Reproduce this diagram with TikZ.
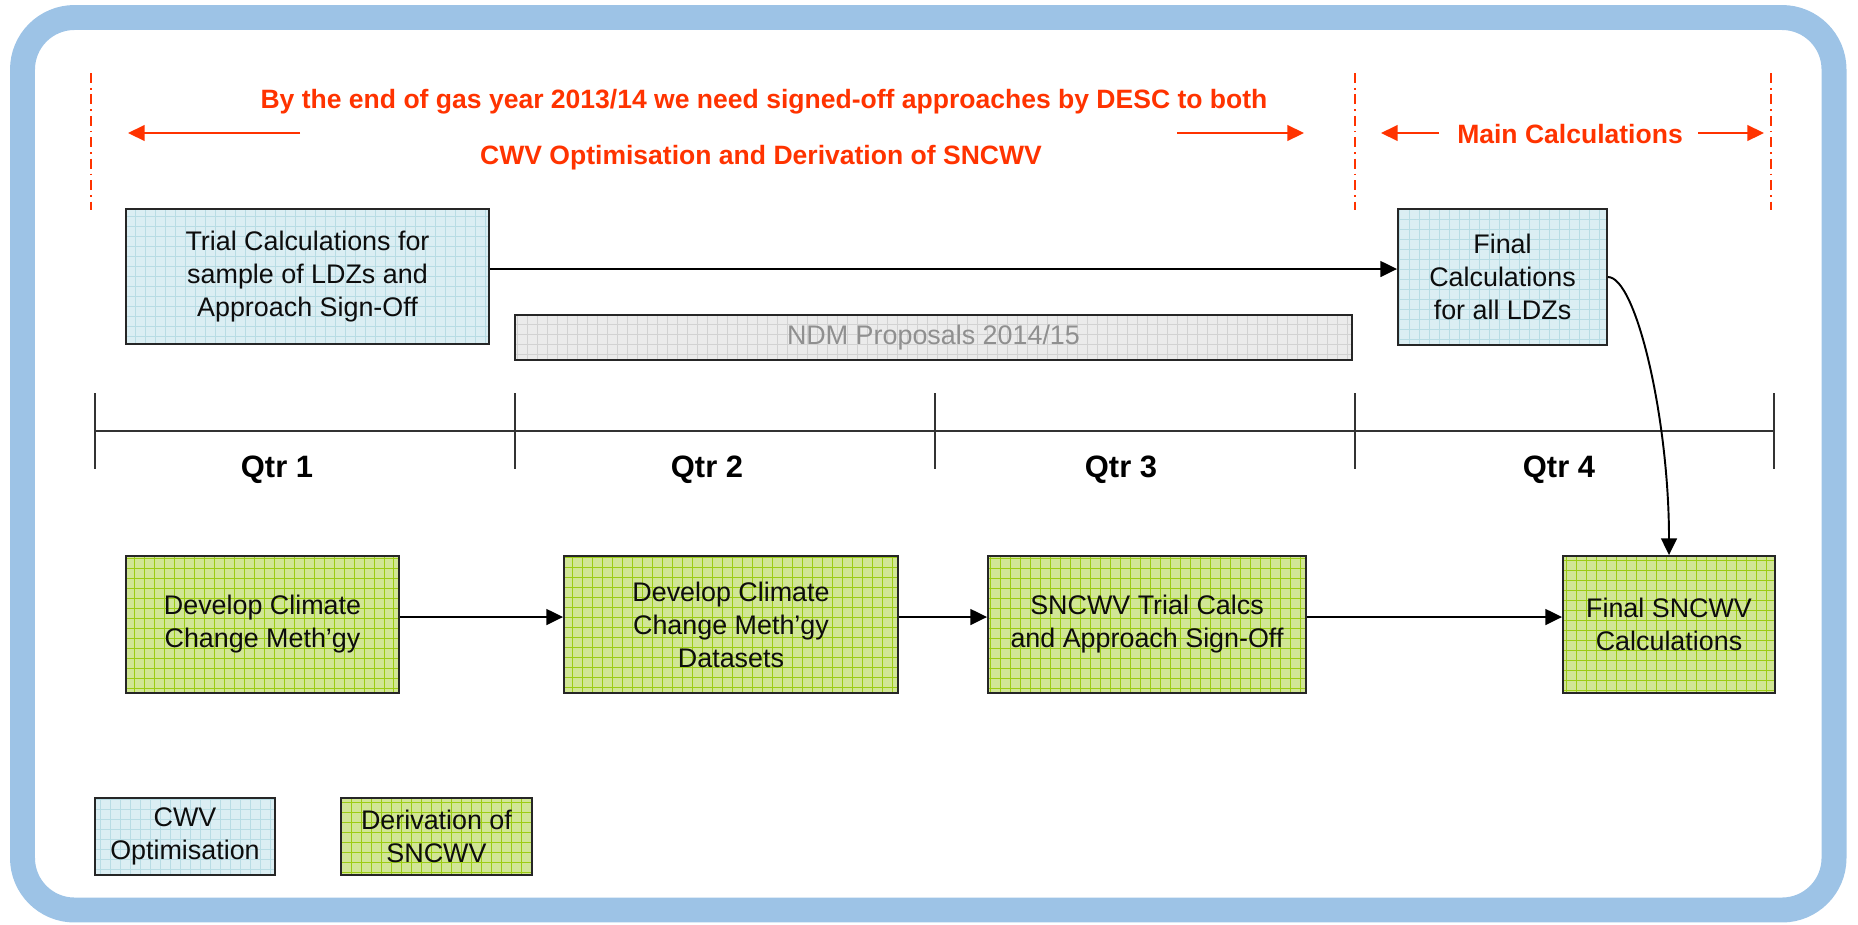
\documentclass[tikz,border=0pt]{standalone}
\usepackage{fontspec}
\setmainfont{Liberation Sans}
\usepackage{xcolor}
\usepackage{tikz}
\usetikzlibrary{arrows.meta}

\definecolor{warnred}{HTML}{FF3300}
\definecolor{frameblue}{HTML}{9DC3E6}
\definecolor{cwvfill}{HTML}{DBEEF3}
\definecolor{cwvgrid}{HTML}{B8DCE4}
\definecolor{sncfill}{HTML}{D1E696}
\definecolor{sncgrid}{HTML}{9CCC14}
\definecolor{ndmfill}{HTML}{EBEBEB}
\definecolor{ndmgrid}{HTML}{D2D2D2}
\definecolor{ndmtext}{HTML}{8F8F8F}

\tikzset{
	gridfill/.style={path picture={\draw[#1, line width=0.4pt, step=0.2cm] (path picture bounding box.south west) grid (path picture bounding box.north east);}},
	task/.style={draw=black!85, line width=1.1pt, align=center, text=black!95, font=\fontsize{15.3}{18.8}\selectfont, inner sep=0pt},
	cwvbox/.style={task, fill=cwvfill, gridfill=cwvgrid},
	sncbox/.style={task, fill=sncfill, gridfill=sncgrid},
	ndmbox/.style={task, fill=ndmfill, gridfill=ndmgrid, text=ndmtext},
	flow/.style={-{Triangle[length=9.5pt,width=9pt]}, line width=1.1pt},
	redflow/.style={-{Triangle[length=9.5pt,width=9pt]}, line width=0.9pt, warnred},
	phase/.style={warnred, line width=1.1pt, dash pattern=on 5.7pt off 2.8pt on 0.9pt off 2.8pt},
	redtext/.style={text=warnred, font=\fontsize{15.1}{18}\selectfont\bfseries, anchor=base},
	qtrtext/.style={font=\fontsize{17.6}{20}\selectfont\bfseries, anchor=base},
}

\begin{document}
\begin{tikzpicture}[x=0.02cm, y=-0.02cm]
			\useasboundingbox (0,0) rectangle (1858,924);
			\draw[frameblue, line width=14.2pt, rounded corners=29.6pt] (22.5,17.5) rectangle (1834,910);
			
			\foreach \x in {91, 1355, 1771}{
				\draw[phase] (\x,73) -- (\x,210);
			}
			
			\node[redtext] (goal1) at (764,108) {By the end of gas year 2013/14 we need signed-off approaches by DESC to both};
			\node[redtext] (goal2) at (761,164) {CWV Optimisation and Derivation of SNCWV};
			\node[redtext] (maincalc) at (1570,143) {Main Calculations};
			
			\foreach \name/\from/\to in {
				goall/300/128,
				goalr/1177/1304,
				mainl/1439/1381,
				mainr/1698/1764
			}{
				\coordinate (\name0) at (\from,133);
				\coordinate (\name1) at (\to,133);
				\draw[redflow] (\name0) -- (\name1);
			}
			
			\node[cwvbox, minimum width=7.26cm, minimum height=2.7cm] (trial) at (307.5,276.5) {Trial Calculations for\\sample of LDZs and\\Approach Sign-Off};
			\node[cwvbox, minimum width=4.18cm, minimum height=2.72cm] (final) at (1502.5,277) {Final\\Calculations\\for all LDZs};
			\node[ndmbox, minimum width=16.74cm, minimum height=0.9cm] (ndm) at (933.5,337.5) {NDM Proposals 2014/15};
			
			\draw[line width=0.9pt, black!80] (95,431) -- (1774,431);
			\foreach \x in {95, 515, 935, 1355, 1774}{
				\draw[line width=0.9pt, black!80] (\x,393) -- (\x,469);
			}
			\foreach \x/\q in {277/1, 707/2, 1121/3, 1559/4}{
				\node[qtrtext] (qtr\q) at (\x,477) {Qtr \q};
			}
			
			\node[sncbox, minimum width=5.46cm, minimum height=2.74cm] (climate) at (262.5,624.5) {Develop Climate\\Change Meth'gy};
			\node[sncbox, minimum width=6.68cm, minimum height=2.74cm] (datasets) at (731,624.5) {Develop Climate\\Change Meth'gy\\Datasets};
			\node[sncbox, minimum width=6.36cm, minimum height=2.74cm] (trialcalcs) at (1147,624.5) {SNCWV Trial Calcs\\and Approach Sign-Off};
			\node[sncbox, minimum width=4.24cm, minimum height=2.74cm] (finalsnc) at (1669,624.5) {Final SNCWV\\Calculations};
			
			\draw[flow] ([yshift=0.15cm]trial.east) coordinate (t0) -- (t0 -| final.west);
			\draw[flow] (final.east) .. controls +(28,0) and +(0,-137) .. (finalsnc.north);
			\draw[flow] ([yshift=0.15cm]climate.east) coordinate (c0) -- (c0 -| datasets.west);
			\draw[flow] ([yshift=0.15cm]datasets.east) coordinate (d0) -- (d0 -| trialcalcs.west);
			\draw[flow] ([yshift=0.15cm]trialcalcs.east) coordinate (s0) -- (s0 -| finalsnc.west);
			
			\node[cwvbox, minimum width=3.6cm, minimum height=1.54cm] (keycwv) at (185,836.5) {CWV\\Optimisation};
			\node[sncbox, minimum width=3.82cm, minimum height=1.54cm] (keysnc) at (436.5,836.5) {Derivation of\\SNCWV};
		\end{tikzpicture}
\end{document}
